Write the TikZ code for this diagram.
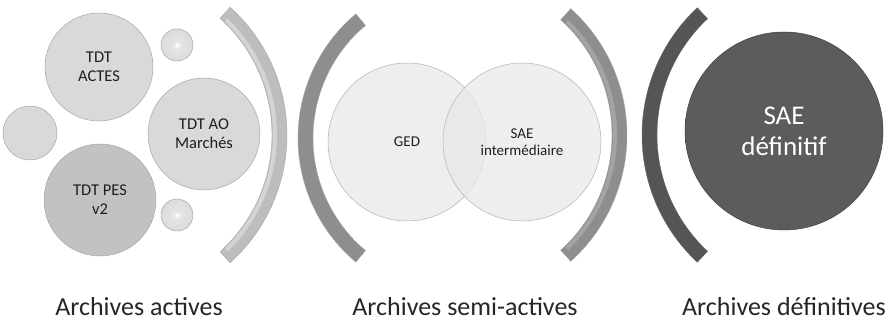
\documentclass[tikz,border=0pt]{standalone}
\usepackage{fontspec}
\setmainfont{Carlito}
\usetikzlibrary{calc}
\definecolor{bubIn}{HTML}{D9D9D9}
\definecolor{bubHl}{HTML}{E4E4E4}
\definecolor{bubRim}{HTML}{C4C4C4}
\definecolor{bubRimD}{HTML}{A8A8A8}
\definecolor{pesIn}{HTML}{C2C2C2}
\definecolor{pesHl}{HTML}{D0D0D0}
\definecolor{pesRim}{HTML}{B0B0B0}
\definecolor{pesRimD}{HTML}{969696}
\definecolor{gedIn}{HTML}{E8E8E8}
\definecolor{gedHl}{HTML}{F2F2F2}
\definecolor{gedRim}{HTML}{DADADA}
\definecolor{gedRimD}{HTML}{C0C0C0}
\definecolor{defIn}{HTML}{5C5C5C}
\definecolor{defHl}{HTML}{7A7A7A}
\definecolor{defRim}{HTML}{555555}
\definecolor{defRimD}{HTML}{3E3E3E}
\definecolor{arcLight}{HTML}{BDBDBD}
\definecolor{arcMid}{HTML}{8E8E8E}
\definecolor{arcDark}{HTML}{555555}
\definecolor{txt}{HTML}{1E1E1E}
\pgfdeclareradialshading{bubA}{\pgfpoint{0bp}{0bp}}{color(0bp)=(bubIn); color(38bp)=(bubIn); color(42bp)=(bubHl); color(46bp)=(bubRim); color(50bp)=(bubRimD)}
\pgfdeclareradialshading{bubP}{\pgfpoint{0bp}{0bp}}{color(0bp)=(pesIn); color(38bp)=(pesIn); color(42bp)=(pesHl); color(46bp)=(pesRim); color(50bp)=(pesRimD)}
\pgfdeclareradialshading{bubG}{\pgfpoint{0bp}{0bp}}{color(0bp)=(gedIn); color(40bp)=(gedIn); color(43bp)=(gedHl); color(47bp)=(gedRim); color(50bp)=(gedRimD)}
\pgfdeclareradialshading{bubD}{\pgfpoint{0bp}{0bp}}{color(0bp)=(defIn); color(42bp)=(defIn); color(45bp)=(defHl); color(48bp)=(defRim); color(50bp)=(defRimD)}
\pgfdeclareradialshading{bubS}{\pgfpoint{0bp}{0bp}}{color(0bp)=(white); color(6bp)=(bubHl); color(30bp)=(bubIn); color(42bp)=(bubHl); color(46bp)=(bubRim); color(50bp)=(bubRimD)}
\begin{document}
\begin{tikzpicture}[x=1pt,y=1pt,
  bub/.style={circle,inner sep=0pt,draw=gray!70,line width=0.5pt,shading=bubA,text=txt,align=center,font=\fontsize{16.5}{19}\selectfont},
  bubpes/.style={bub,shading=bubP},
  bubsmall/.style={bub,shading=bubS},
  bubged/.style={bub,shading=bubG,fill opacity=0.75,draw=gray!60},
  gedtxt/.style={text=txt,align=center,font=\fontsize{15}{17}\selectfont},
  bubdef/.style={bub,shading=bubD,draw=defRimD,text=white,font=\fontsize{27}{31}\selectfont},
  lbl/.style={text=black!85,font=\fontsize{26}{28}\selectfont,anchor=base},
  arcshape/.style={draw=black!35,line width=0.4pt,line join=miter}
]
\useasboundingbox (0,0) rectangle (889,321);
% --- Archives actives ---
\node[bub,minimum size=108pt] (actes) at (99,254) {TDT\\ACTES};
\node[bubsmall,minimum size=32pt] (s1) at (177,276) {};
\node[bub,minimum size=54pt] (s2) at (30,188) {};
\node[bub,minimum size=112pt] (ao) at (204,187) {TDT AO\\Marchés};
\node[bubpes,minimum size=112pt] (pes) at (100,121) {TDT PES\\v2};
\node[bubsmall,minimum size=32pt] (s3) at (177,106) {};
% arc 1 (right parenthesis)
\coordinate (c1) at (115,186);
\fill[arcshape,fill=arcLight] ($(c1)+(-48:172)$) arc[start angle=-48,end angle=48,radius=172]
  -- ($(c1)+(48:157)$) arc[start angle=48,end angle=-48,radius=157] -- cycle;
\draw[white!35!arcLight,line width=4pt] ($(c1)+(-46:160)$) arc[start angle=-46,end angle=46,radius=160];
% --- Archives semi-actives ---
\coordinate (c2) at (460,183);
\fill[arcshape,fill=arcMid] ($(c2)+(130:162)$) arc[start angle=130,end angle=230,radius=162]
  -- ($(c2)+(230:147)$) arc[start angle=230,end angle=130,radius=147] -- cycle;
\coordinate (c3) at (457,186);
\fill[arcshape,fill=arcMid] ($(c3)+(-48:170)$) arc[start angle=-48,end angle=48,radius=170]
  -- ($(c3)+(48:155)$) arc[start angle=48,end angle=-48,radius=155] -- cycle;
\draw[white!20!arcMid,line width=4pt] ($(c3)+(-46:158)$) arc[start angle=-46,end angle=46,radius=158];
\node[bubged,minimum size=158pt] (ged) at (407,179) {};
\node[bubged,minimum size=158pt] (sae) at (522,179) {};
\node[gedtxt] at (ged) {GED};
\node[gedtxt] at (sae) {SAE\\intermédiaire};
% --- Archives définitives ---
\coordinate (c4) at (816,186);
\fill[arcshape,fill=arcDark,draw=black!60] ($(c4)+(133:174)$) arc[start angle=133,end angle=227,radius=174]
  -- ($(c4)+(227:159)$) arc[start angle=227,end angle=133,radius=159] -- cycle;
\node[bubdef,minimum size=198pt] (def) at (784,190) {SAE\\définitif};
% --- labels ---
\node[lbl] (la) at (139,5) {Archives actives};
\node[lbl] (ls) at (465,5) {Archives semi-actives};
\node[lbl] (ld) at (784,5) {Archives définitives};
\end{tikzpicture}
\end{document}
